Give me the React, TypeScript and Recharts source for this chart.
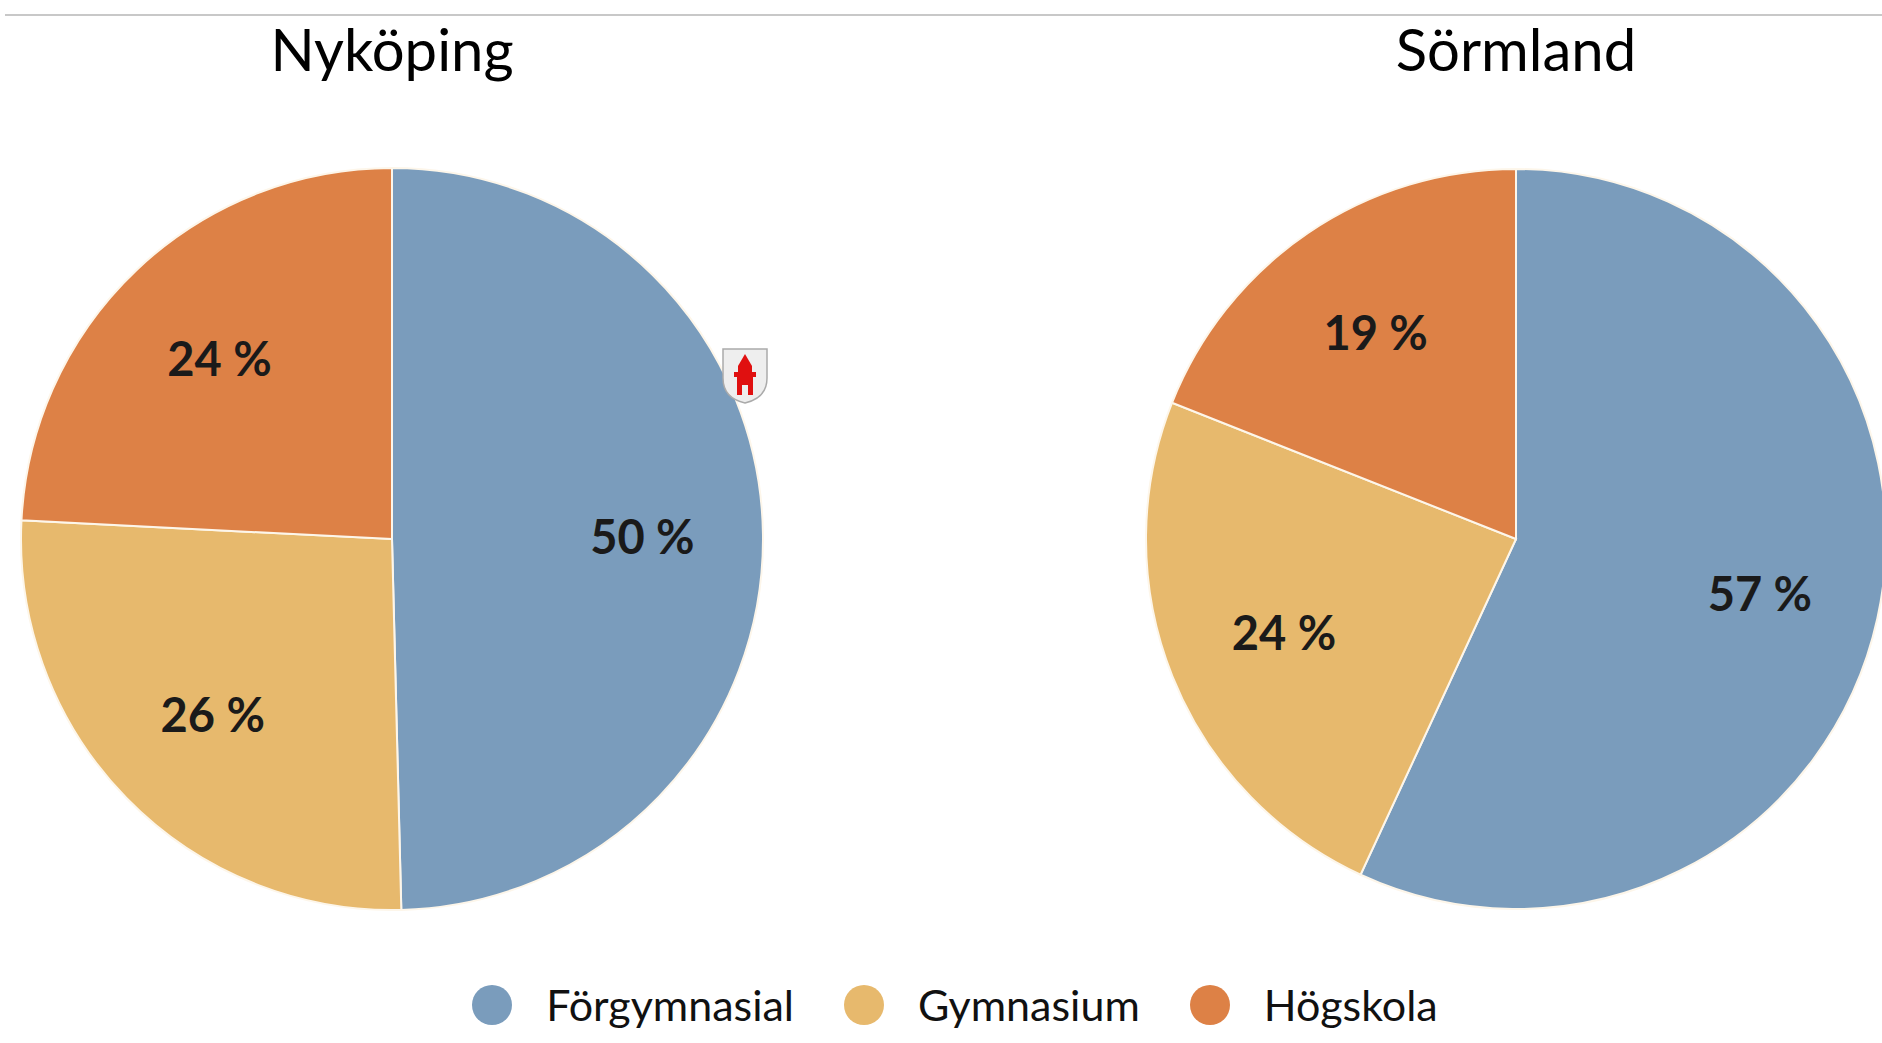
import { Legend, Pie, PieChart, Cell } from "recharts"

const categories = ["Förgymnasial", "Gymnasium", "Högskola"]
const nykopingValues = [49.6, 26.2, 24.2]
const sormlandValues = [56.9, 24.1, 19.0]
const titles = ["Nyköping", "Sörmland"]
const colors = ["#7a9cbc", "#e7b96d", "#dd8146"]

const nykopingData = categories.map((name, i) => ({ name, value: nykopingValues[i] }))
const sormlandData = categories.map((name, i) => ({ name, value: sormlandValues[i] }))

const FONT = "Lato, 'Open Sans', sans-serif"
const RAD = Math.PI / 180

function renderLabel({ cx, cy, midAngle, outerRadius, value }: any) {
  const r = outerRadius * 0.675
  const x = cx + r * Math.cos(-midAngle * RAD)
  const y = cy + r * Math.sin(-midAngle * RAD)
  return (
    <text
      x={x}
      y={y}
      fill="#1a1a1a"
      textAnchor="middle"
      dominantBaseline="central"
      fontFamily={FONT}
      fontWeight={700}
      fontSize={47}
    >
      {`${Math.round(value)} %`}
    </text>
  )
}

function LegendContent({ payload }: any) {
  const seen = new Set<string>()
  const items = (payload || []).filter((p: any) => {
    if (seen.has(p.value)) return false
    seen.add(p.value)
    return true
  })
  return (
    <div style={{ display: "flex", justifyContent: "center", alignItems: "center", gap: 50, fontFamily: FONT }}>
      {items.map((p: any) => (
        <div key={p.value} style={{ display: "flex", alignItems: "center" }}>
          <span
            style={{
              width: 40,
              height: 40,
              borderRadius: "50%",
              background: p.color,
              display: "inline-block",
              marginRight: 34,
            }}
          />
          <span style={{ fontSize: 43, color: "#111" }}>{p.value}</span>
        </div>
      ))}
    </div>
  )
}

function Shield() {
  return (
    <svg width={46} height={56} viewBox="0 0 46 56" style={{ position: "absolute", left: 722, top: 348 }}>
      <path d="M1 1 H45 V30 Q45 50 23 55 Q1 50 1 30 Z" fill="#eeeeee" stroke="#aaaaaa" strokeWidth={1.5} />
      <polygon points="23,6 16,18 30,18" fill="#e01010" />
      <rect x={16} y={18} width={14} height={6} fill="#e01010" />
      <rect x={12} y={24} width={22} height={5} fill="#e01010" />
      <rect x={15} y={29} width={16} height={18} fill="#e01010" />
      <rect x={20} y={37} width={6} height={10} fill="#eeeeee" />
    </svg>
  )
}

export default function App() {
  return (
    <div style={{ position: "absolute", left: 0, top: 0, width: 1882, height: 1043, background: "#fff", overflow: "hidden" }}>
      <div style={{ position: "absolute", left: 5, right: 0, top: 14, height: 2, background: "#c8c8c8" }} />
      {titles.map((t, i) => (
        <div
          key={t}
          style={{
            position: "absolute",
            left: i === 0 ? 392 - 200 : 1516 - 200,
            width: 400,
            top: 14,
            textAlign: "center",
            fontFamily: FONT,
            fontSize: 58,
            color: "#000",
          }}
        >
          {t}
        </div>
      ))}
      <PieChart
        width={1882}
        height={1043}
        margin={{ top: 0, right: 0, bottom: 0, left: 0 }}
        style={{ position: "absolute", left: 0, top: 0 }}
      >
        <Pie
          data={nykopingData}
          dataKey="value"
          nameKey="name"
          cx={392}
          cy={539}
          outerRadius={371}
          startAngle={90}
          endAngle={-270}
          stroke="#fdf6ea"
          strokeWidth={2}
          label={renderLabel}
          labelLine={false}
          isAnimationActive={false}
        >
          {nykopingData.map((d, i) => (
            <Cell key={d.name} fill={colors[i]} />
          ))}
        </Pie>
        <Pie
          data={sormlandData}
          dataKey="value"
          nameKey="name"
          cx={1516}
          cy={539}
          outerRadius={370}
          startAngle={90}
          endAngle={-270}
          stroke="#fdf6ea"
          strokeWidth={2}
          label={renderLabel}
          labelLine={false}
          isAnimationActive={false}
        >
          {sormlandData.map((d, i) => (
            <Cell key={d.name} fill={colors[i]} />
          ))}
        </Pie>
        <Legend
          content={<LegendContent />}
          wrapperStyle={{ position: "absolute", left: 14, width: 1882, top: 979 }}
        />
      </PieChart>
      <Shield />
    </div>
  )
}
